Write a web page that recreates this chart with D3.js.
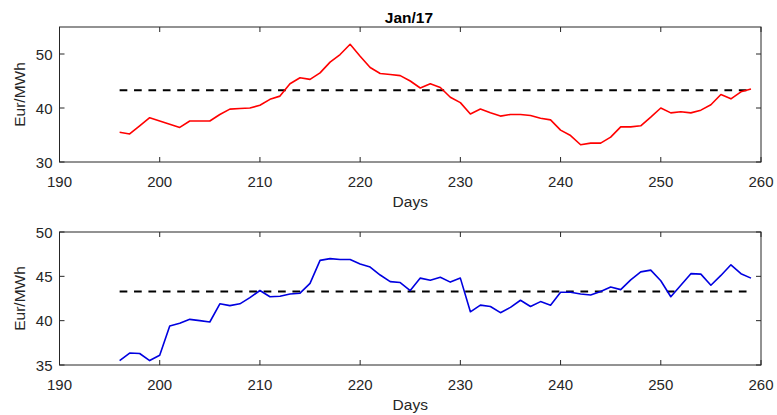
<!DOCTYPE html>
<html>
<head>
<meta charset="utf-8">
<script src="https://cdn.jsdelivr.net/npm/d3@7"></script>
<style>
  body { margin: 0; background: #fff; }
  svg text { font-family: "Liberation Sans", Arial, Helvetica, sans-serif; fill: #262626; }
</style>
</head>
<body>
<div id="chart"></div>
<script>
const days = d3.range(196, 260)
const priceTop = [35.5, 35.2, 36.7, 38.2, 37.6, 37.0, 36.4, 37.6, 37.6, 37.6,
  38.8, 39.8, 39.9, 40.0, 40.5, 41.6, 42.2, 44.5, 45.6, 45.3,
  46.5, 48.5, 49.9, 51.8, 49.6, 47.5, 46.4, 46.2, 46.0, 45.0,
  43.7, 44.5, 43.8, 42.0, 41.0, 38.9, 39.8, 39.1, 38.5, 38.8,
  38.8, 38.6, 38.1, 37.8, 35.9, 34.9, 33.2, 33.5, 33.5, 34.6,
  36.5, 36.5, 36.7, 38.3, 40.0, 39.1, 39.3, 39.1, 39.6, 40.6,
  42.5, 41.7, 43.0, 43.5]
const priceBottom = [35.5, 36.35, 36.3, 35.5, 36.1, 39.4, 39.7, 40.15, 40.0, 39.85,
  41.9, 41.7, 41.9, 42.6, 43.4, 42.7, 42.75, 43.0, 43.1, 44.2,
  46.8, 47.0, 46.9, 46.9, 46.4, 46.05, 45.15, 44.4, 44.3, 43.4,
  44.8, 44.55, 44.9, 44.35, 44.8, 41.0, 41.75, 41.6, 40.9, 41.5,
  42.3, 41.6, 42.15, 41.75, 43.2, 43.2, 43.0, 42.9, 43.3, 43.8,
  43.5, 44.6, 45.5, 45.7, 44.5, 42.7, 44.0, 45.3, 45.25, 44.0,
  45.1, 46.3, 45.3, 44.8]
const meanLevel = 43.3
const xTicks = [190, 200, 210, 220, 230, 240, 250, 260]
const yTicksTop = [30, 40, 50]
const yTicksBottom = [35, 40, 45, 50]

const width = 777, height = 415
const svg = d3.select('#chart').append('svg')
  .attr('width', width)
  .attr('height', height)

svg.append('text')
  .attr('x', 409).attr('y', 22.5)
  .attr('text-anchor', 'middle')
  .style('font-size', '15.5px').style('font-weight', 'bold')
  .style('fill', '#000')
  .text('Jan/17')

const x = d3.scaleLinear().domain([190, 260]).range([59.5, 761])

function drawPanel(top, bottom, yDomain, yTicks, values, color) {
  const y = d3.scaleLinear().domain(yDomain).range([bottom, top])
  const g = svg.append('g')
  const axisColor = '#262626'
  const tickLen = 5

  // box
  g.append('rect')
    .attr('x', x.range()[0]).attr('y', top)
    .attr('width', x.range()[1] - x.range()[0]).attr('height', bottom - top)
    .attr('fill', 'none').attr('stroke', axisColor).attr('stroke-width', 1)

  // x ticks (bottom and top, inward)
  for (const t of xTicks) {
    g.append('line').attr('x1', x(t)).attr('x2', x(t)).attr('y1', bottom).attr('y2', bottom - tickLen).attr('stroke', axisColor)
    g.append('line').attr('x1', x(t)).attr('x2', x(t)).attr('y1', top).attr('y2', top + tickLen).attr('stroke', axisColor)
    g.append('text')
      .attr('x', x(t)).attr('y', bottom + 24.5)
      .attr('text-anchor', 'middle').style('font-size', '15px')
      .text(t)
  }
  // y ticks (left and right, inward)
  for (const t of yTicks) {
    g.append('line').attr('x1', x.range()[0]).attr('x2', x.range()[0] + tickLen).attr('y1', y(t)).attr('y2', y(t)).attr('stroke', axisColor)
    g.append('line').attr('x1', x.range()[1]).attr('x2', x.range()[1] - tickLen).attr('y1', y(t)).attr('y2', y(t)).attr('stroke', axisColor)
    g.append('text')
      .attr('x', x.range()[0] - 7).attr('y', y(t) + 5.5)
      .attr('text-anchor', 'end').style('font-size', '15px')
      .text(t)
  }

  // axis labels
  g.append('text')
    .attr('x', (x.range()[0] + x.range()[1]) / 2).attr('y', bottom + 45)
    .attr('text-anchor', 'middle').style('font-size', '15.5px')
    .text('Days')
  g.append('text')
    .attr('transform', `translate(25, ${(top + bottom) / 2}) rotate(-90)`)
    .attr('text-anchor', 'middle').style('font-size', '15.5px')
    .text('Eur/MWh')

  // mean dashed line
  g.append('line')
    .attr('x1', x(days[0])).attr('x2', x(days[days.length - 1]))
    .attr('y1', y(meanLevel)).attr('y2', y(meanLevel))
    .attr('stroke', '#000').attr('stroke-width', 2)
    .attr('stroke-dasharray', '7.7,6.7')

  // series
  const line = d3.line()
    .x((d, i) => x(days[i]))
    .y(d => y(d))
  g.append('path')
    .datum(values)
    .attr('d', line)
    .attr('fill', 'none')
    .attr('stroke', color)
    .attr('stroke-width', 1.6)
    .attr('stroke-linejoin', 'round')
}

drawPanel(27, 162, [30, 55], yTicksTop, priceTop, '#ff0000')
drawPanel(232, 365, [35, 50], yTicksBottom, priceBottom, '#0000e0')
</script>
</body>
</html>
